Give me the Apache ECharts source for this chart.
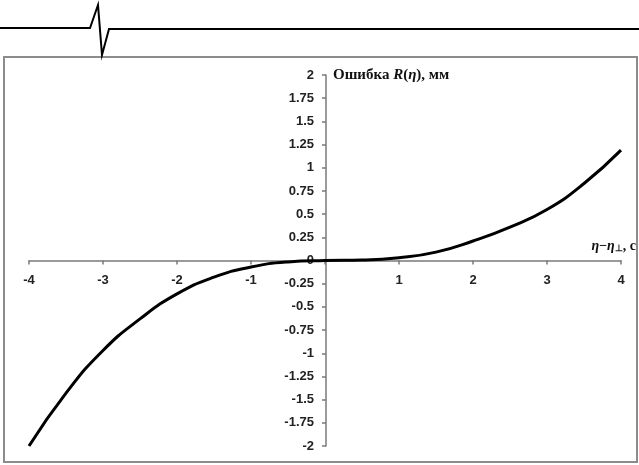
<!DOCTYPE html>
<html>
<head>
<meta charset="utf-8">
<script src="https://cdn.jsdelivr.net/npm/echarts@6/dist/echarts.min.js"></script>
<style>
  html, body { margin: 0; padding: 0; background: #fff; }
  #chart { width: 639px; height: 465px; }
</style>
</head>
<body>
<div id="chart"></div>
<script>
// значения (шаг 0.5 с)
const etaValues = [-4, -3.5, -3, -2.5, -2, -1.5, -1, -0.5, 0, 0.5, 1, 1.5, 2, 2.5, 3, 3.5, 4]
const errorValues = [-2, -1.43, -0.97, -0.63, -0.36, -0.18, -0.07, -0.015, 0, 0.005, 0.03, 0.09, 0.21, 0.36, 0.55, 0.83, 1.19]

const axisColor = '#7a7a7a'
const labelFont = {
  fontFamily: 'Liberation Sans',
  fontWeight: 'bold',
  fontSize: 13,
  color: '#222'
}
const nameFont = 'Liberation Serif'

// оси пересекаются в нуле: сдвигаем их внутрь сетки
const gridBox = { left: 29, right: 16, top: 75, bottom: 19 }
const plotW = 639 - gridBox.left - gridBox.right
const plotH = 465 - gridBox.top - gridBox.bottom

const chart = echarts.init(document.getElementById('chart'))
const option = {
  animation: false,
  backgroundColor: '#fff',
  grid: gridBox,
  xAxis: {
    type: 'value',
    position: 'bottom',
    offset: -plotH / 2,
    min: -4,
    max: 4,
    interval: 1,
    name: '{i|η}{a|−}{i|η}{s|⊥}{a|, с}',
    nameLocation: 'end',
    nameGap: 15,
    nameTextStyle: {
      align: 'right',
      verticalAlign: 'bottom',
      padding: [0, 0, 7, 0],
      rich: {
        i: { fontFamily: nameFont, fontStyle: 'italic', fontWeight: 'bold', fontSize: 14, color: '#111' },
        a: { fontFamily: nameFont, fontWeight: 'bold', fontSize: 14, color: '#111' },
        s: { fontFamily: nameFont, fontWeight: 'bold', fontSize: 9, color: '#111', padding: [6, 0, 0, 0] }
      }
    },
    axisLine: { onZero: false, lineStyle: { color: axisColor, width: 1.5 } },
    axisTick: { show: true, length: 4, lineStyle: { color: axisColor, width: 1.5 } },
    axisLabel: Object.assign({
      margin: 13,
      formatter: v => (v === 0 ? '' : String(v))
    }, labelFont),
    splitLine: { show: false }
  },
  yAxis: {
    type: 'value',
    position: 'left',
    offset: -plotW / 2,
    min: -2,
    max: 2,
    interval: 0.25,
    name: '{a|Ошибка }{i|R}{a|(}{i|η}{a|), мм}',
    nameLocation: 'end',
    nameGap: 0,
    nameTextStyle: {
      align: 'left',
      verticalAlign: 'middle',
      padding: [0, 0, 0, 7],
      rich: {
        i: { fontFamily: nameFont, fontStyle: 'italic', fontWeight: 'bold', fontSize: 15, color: '#111' },
        a: { fontFamily: nameFont, fontWeight: 'bold', fontSize: 15, color: '#111' }
      }
    },
    axisLine: { show: true, onZero: false, lineStyle: { color: axisColor, width: 1.5 } },
    axisTick: { show: true, length: 4, lineStyle: { color: axisColor, width: 1.5 } },
    axisLabel: Object.assign({ margin: 12 }, labelFont),
    splitLine: { show: false }
  },
  series: [{
    type: 'line',
    data: etaValues.map((x, i) => [x, errorValues[i]]),
    smooth: true,
    showSymbol: false,
    symbol: 'none',
    lineStyle: { color: '#000', width: 3 }
  }],
  graphic: [
    {
      // рамка рисунка
      type: 'rect',
      shape: { x: 4, y: 57, width: 633, height: 405 },
      style: { fill: null, stroke: '#8c8c8c', lineWidth: 2 },
      silent: true
    },
    {
      // колонтитул с импульсом
      type: 'polyline',
      shape: { points: [[0, 28], [90, 28], [98, 5], [102, 55], [109, 29], [639, 29]] },
      style: { fill: null, stroke: '#000', lineWidth: 2 },
      silent: true
    }
  ]
}
chart.setOption(option)
</script>
</body>
</html>
